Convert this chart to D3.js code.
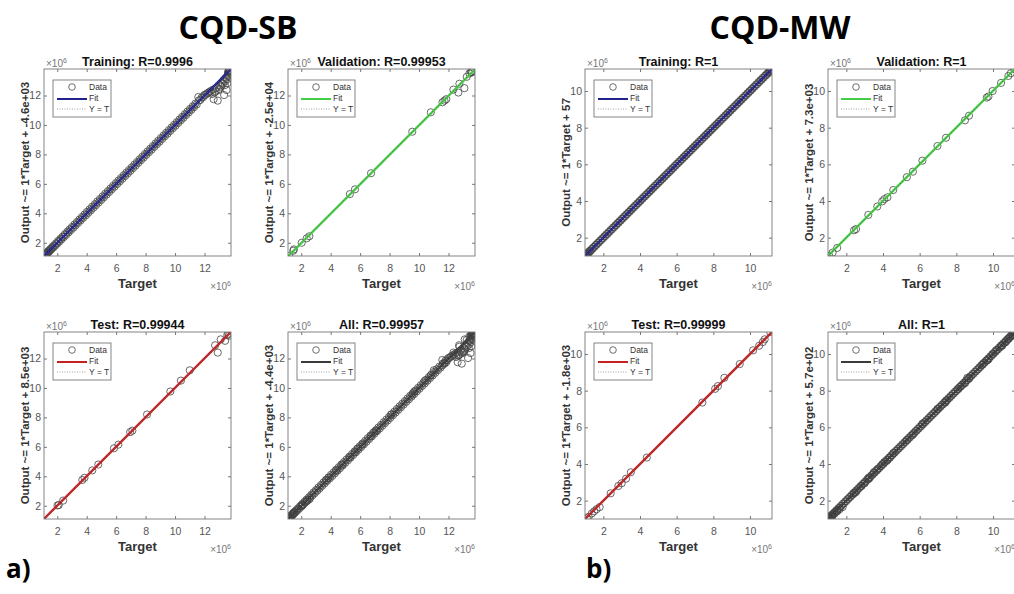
<!DOCTYPE html>
<html>
<head>
<meta charset="utf-8">
<script src="https://cdn.jsdelivr.net/npm/d3@7"></script>
<style>
    body { margin: 0; background: #fff; }
    svg { display: block; font-family: "Liberation Sans", Arial, sans-serif; }
    .tick text { fill: #555; font-size: 10.5px; }
    .tick line { stroke: #777; }
</style>
</head>
<body>
<div id="chart"></div>
<script>
// values are in units of 1e6 (target, output)
const sbTicks = [2, 4, 6, 8, 10, 12];
const mwTicks = [2, 4, 6, 8, 10];
const sbDomain = [1.1, 13.8];
const mwDomain = [1.0, 11.2];

const panelTitles = ["Training: R=0.9996", "Validation: R=0.99953", "Test: R=0.99944", "All: R=0.99957",
    "Training: R=1", "Validation: R=1", "Test: R=0.99999", "All: R=1"];
const slopes = [1, 1, 1, 1, 1, 1, 1, 1];
const intercepts = [-4.6e3, -2.5e4, 8.5e3, -4.4e3, 57, 7.3e3, -1.8e3, 5.7e2];
const interceptLabels = ["-4.6e+03", "-2.5e+04", "8.5e+03", "-4.4e+03", "57", "7.3e+03", "-1.8e+03", "5.7e+02"];
const fitColors = ["#22228c", "#44cc44", "#c42222", "#3a3a3a"];

const trainSB = [
    [1.12, 1.10], [1.14, 1.17], [1.16, 1.12], [1.19, 1.22], [1.21, 1.16], [1.24, 1.27], [1.27, 1.22], [1.30, 1.34],
    [1.33, 1.28], [1.37, 1.41], [1.41, 1.36], [1.45, 1.49], [1.50, 1.45], [1.55, 1.59], [1.60, 1.55], [1.66, 1.71],
    [1.72, 1.67], [1.78, 1.83], [1.85, 1.79], [1.92, 1.97], [1.99, 1.93], [2.06, 2.12], [2.13, 2.07], [2.21, 2.27],
    [2.28, 2.22], [2.36, 2.42], [2.44, 2.38], [2.52, 2.58], [2.60, 2.53], [2.68, 2.75], [2.76, 2.70], [2.84, 2.91],
    [2.92, 2.85], [3.00, 3.07], [3.09, 3.02], [3.17, 3.24], [3.25, 3.18], [3.34, 3.41], [3.42, 3.35], [3.51, 3.58],
    [3.59, 3.52], [3.68, 3.75], [3.76, 3.69], [3.85, 3.92], [3.94, 3.86], [4.02, 4.10], [4.11, 4.03], [4.20, 4.27],
    [4.28, 4.20], [4.37, 4.45], [4.46, 4.38], [4.55, 4.62], [4.63, 4.55], [4.72, 4.80], [4.81, 4.73], [4.90, 4.97],
    [4.99, 4.91], [5.08, 5.15], [5.17, 5.09], [5.26, 5.33], [5.35, 5.27], [5.44, 5.51], [5.53, 5.45], [5.62, 5.69],
    [5.71, 5.63], [5.80, 5.87], [5.89, 5.81], [5.98, 6.05], [6.07, 5.99], [6.16, 6.23], [6.25, 6.17], [6.34, 6.41],
    [6.43, 6.35], [6.52, 6.59], [6.61, 6.53], [6.70, 6.77], [6.79, 6.71], [6.88, 6.95], [6.97, 6.89], [7.06, 7.13],
    [7.15, 7.07], [7.24, 7.31], [7.33, 7.25], [7.42, 7.49], [7.51, 7.43], [7.60, 7.67], [7.69, 7.61], [7.78, 7.85],
    [7.87, 7.79], [7.96, 8.03], [8.05, 7.97], [8.14, 8.21], [8.23, 8.15], [8.32, 8.39], [8.41, 8.33], [8.50, 8.57],
    [8.59, 8.51], [8.68, 8.75], [8.77, 8.69], [8.86, 8.93], [8.95, 8.87], [9.04, 9.11], [9.13, 9.05], [9.22, 9.29],
    [9.31, 9.23], [9.40, 9.47], [9.49, 9.41], [9.58, 9.65], [9.67, 9.59], [9.76, 9.83], [9.85, 9.77], [9.94, 10.01],
    [10.03, 9.95], [10.12, 10.19], [10.21, 10.13], [10.30, 10.37], [10.39, 10.31], [10.48, 10.55], [10.57, 10.49], [10.66, 10.73],
    [10.75, 10.67], [10.84, 10.91], [10.93, 10.85], [11.02, 11.09], [11.11, 11.03], [11.20, 11.27], [11.29, 11.21], [11.38, 11.45],
    [11.47, 11.39], [11.58, 11.90], [11.62, 11.66], [11.72, 11.70], [11.80, 11.86], [11.90, 11.88], [11.98, 12.03], [12.06, 12.04],
    [12.15, 12.12], [12.24, 12.18], [12.33, 12.24], [12.42, 12.30], [12.52, 12.10], [12.58, 12.40], [12.62, 11.75], [12.68, 12.20],
    [12.75, 12.28], [12.82, 12.52], [12.90, 11.65], [12.95, 12.36], [13.00, 12.45], [13.06, 12.70], [13.12, 12.60], [13.18, 12.88],
    [13.25, 12.80], [13.30, 13.05], [13.33, 12.03], [13.38, 12.70], [13.40, 12.95], [13.45, 13.20], [13.50, 12.37], [13.52, 13.10],
    [13.55, 12.83], [13.57, 13.40], [13.58, 13.30], [13.60, 13.55], [13.62, 13.62], [13.63, 13.45], [13.65, 13.68], [13.66, 13.58],
    [13.68, 13.70], [13.70, 13.65], [13.72, 13.74], [13.73, 13.72]
];
const valSB = [
    [1.19, 1.10], [1.46, 1.46], [1.50, 1.55], [2.03, 2.00], [2.37, 2.30], [2.55, 2.44], [5.30, 5.30], [5.65, 5.63],
    [6.74, 6.72], [9.54, 9.54], [10.80, 10.86], [11.59, 11.54], [11.73, 11.65], [11.85, 11.75], [12.33, 12.40], [12.67, 12.20],
    [12.74, 12.80], [13.08, 12.50], [13.24, 13.27], [13.42, 13.50], [13.53, 13.60], [13.58, 13.62], [13.62, 13.58]
];
const testSB = [
    [2.02, 2.02], [2.10, 2.05], [2.40, 2.35], [3.70, 3.75], [3.85, 3.90], [4.38, 4.40], [4.79, 4.80], [5.85, 5.90],
    [6.15, 6.15], [6.95, 7.00], [7.10, 7.10], [8.10, 8.20], [9.68, 9.76], [10.40, 10.50], [11.00, 11.20], [12.72, 12.90],
    [12.90, 12.40], [13.10, 13.30], [13.40, 13.20], [13.55, 13.60], [13.62, 13.68], [13.66, 13.55]
];
const allSB = trainSB.concat(valSB, testSB);

const trainMW = [
    [1.01, 1.00], [1.02, 1.03], [1.04, 1.02], [1.05, 1.07], [1.07, 1.05], [1.09, 1.11], [1.11, 1.09], [1.14, 1.16],
    [1.17, 1.14], [1.20, 1.22], [1.24, 1.21], [1.28, 1.30], [1.32, 1.29], [1.37, 1.39], [1.42, 1.40], [1.47, 1.49],
    [1.52, 1.50], [1.58, 1.60], [1.63, 1.61], [1.69, 1.71], [1.75, 1.73], [1.81, 1.83], [1.87, 1.85], [1.93, 1.95],
    [1.99, 1.97], [2.05, 2.07], [2.11, 2.09], [2.17, 2.19], [2.23, 2.21], [2.29, 2.31], [2.35, 2.33], [2.41, 2.43],
    [2.47, 2.45], [2.53, 2.55], [2.59, 2.57], [2.65, 2.67], [2.71, 2.69], [2.77, 2.79], [2.83, 2.81], [2.89, 2.91],
    [2.95, 2.93], [3.01, 3.03], [3.07, 3.05], [3.13, 3.15], [3.19, 3.17], [3.25, 3.27], [3.31, 3.29], [3.37, 3.39],
    [3.43, 3.41], [3.49, 3.51], [3.55, 3.53], [3.61, 3.63], [3.67, 3.65], [3.73, 3.75], [3.79, 3.77], [3.85, 3.87],
    [3.91, 3.89], [3.97, 3.99], [4.03, 4.01], [4.09, 4.11], [4.15, 4.13], [4.21, 4.23], [4.27, 4.25], [4.33, 4.35],
    [4.39, 4.37], [4.45, 4.47], [4.51, 4.49], [4.57, 4.59], [4.63, 4.61], [4.69, 4.71], [4.75, 4.73], [4.81, 4.83],
    [4.87, 4.85], [4.93, 4.95], [4.99, 4.97], [5.05, 5.07], [5.11, 5.09], [5.17, 5.19], [5.23, 5.21], [5.29, 5.31],
    [5.35, 5.33], [5.41, 5.43], [5.47, 5.45], [5.53, 5.55], [5.59, 5.57], [5.65, 5.67], [5.71, 5.69], [5.77, 5.79],
    [5.83, 5.81], [5.89, 5.91], [5.95, 5.93], [6.01, 6.03], [6.07, 6.05], [6.13, 6.15], [6.19, 6.17], [6.25, 6.27],
    [6.31, 6.29], [6.37, 6.39], [6.43, 6.41], [6.49, 6.51], [6.55, 6.53], [6.61, 6.63], [6.67, 6.65], [6.73, 6.75],
    [6.79, 6.77], [6.85, 6.87], [6.91, 6.89], [6.97, 6.99], [7.03, 7.01], [7.09, 7.11], [7.15, 7.13], [7.21, 7.23],
    [7.27, 7.25], [7.33, 7.35], [7.39, 7.37], [7.45, 7.47], [7.51, 7.49], [7.57, 7.59], [7.63, 7.61], [7.69, 7.71],
    [7.75, 7.73], [7.81, 7.83], [7.87, 7.85], [7.93, 7.95], [7.99, 7.97], [8.05, 8.07], [8.11, 8.09], [8.17, 8.19],
    [8.23, 8.21], [8.29, 8.31], [8.35, 8.33], [8.41, 8.43], [8.47, 8.45], [8.53, 8.55], [8.59, 8.57], [8.65, 8.67],
    [8.71, 8.69], [8.77, 8.79], [8.83, 8.81], [8.89, 8.91], [8.95, 8.93], [9.01, 9.03], [9.07, 9.05], [9.13, 9.15],
    [9.19, 9.17], [9.25, 9.27], [9.31, 9.29], [9.37, 9.39], [9.43, 9.41], [9.49, 9.51], [9.55, 9.53], [9.61, 9.63],
    [9.67, 9.65], [9.73, 9.75], [9.79, 9.77], [9.85, 9.87], [9.91, 9.89], [9.97, 9.99], [10.03, 10.01], [10.09, 10.11],
    [10.15, 10.13], [10.21, 10.23], [10.27, 10.25], [10.33, 10.35], [10.39, 10.37], [10.45, 10.47], [10.51, 10.49], [10.57, 10.59],
    [10.63, 10.61], [10.69, 10.71], [10.75, 10.73], [10.81, 10.83], [10.87, 10.85], [10.92, 10.94], [10.97, 10.95], [11.01, 11.03],
    [11.05, 11.04], [11.09, 11.10], [11.12, 11.11], [11.15, 11.16], [11.17, 11.16], [11.19, 11.19]
];
const valMW = [
    [1.07, 1.00], [1.25, 1.18], [1.50, 1.44], [2.42, 2.40], [2.53, 2.47], [3.20, 3.24], [3.69, 3.70], [3.96, 3.98],
    [4.07, 4.10], [4.24, 4.20], [4.56, 4.60], [5.30, 5.30], [5.63, 5.60], [6.15, 6.20], [6.97, 7.00], [7.44, 7.45],
    [8.47, 8.40], [8.69, 8.65], [9.66, 9.64], [9.75, 9.70], [9.98, 10.00], [10.44, 10.44], [10.84, 10.82], [10.97, 10.97],
    [11.15, 11.20]
];
const testMW = [
    [1.10, 1.04], [1.20, 1.12], [1.37, 1.30], [1.50, 1.42], [1.63, 1.53], [1.80, 1.65], [2.40, 2.40], [2.82, 2.80],
    [3.00, 2.95], [3.24, 3.20], [3.50, 3.55], [4.37, 4.35], [7.40, 7.35], [8.10, 8.10], [8.25, 8.25], [8.60, 8.70],
    [9.44, 9.45], [10.17, 10.20], [10.50, 10.45], [10.70, 10.65], [10.80, 10.80], [11.10, 11.20]
];
const allMW = trainMW.concat(valMW, testMW);

const panelData = [trainSB, valSB, testSB, allSB, trainMW, valMW, testMW, allMW];

const width = 1014,
    height = 594;

const svg = d3.select("#chart")
    .append("svg")
    .attr("width", width)
    .attr("height", height);

svg.append("rect").attr("width", width).attr("height", height).attr("fill", "#fff");

// big headings
svg.append("text").attr("x", 238).attr("y", 39).attr("text-anchor", "middle")
    .style("font-family", "'Open Sans', sans-serif").style("font-weight", 700).style("font-size", "32px")
    .text("CQD-SB");
svg.append("text").attr("x", 780).attr("y", 39).attr("text-anchor", "middle")
    .style("font-family", "'Open Sans', sans-serif").style("font-weight", 700).style("font-size", "32px")
    .text("CQD-MW");
svg.append("text").attr("x", 6).attr("y", 578)
    .style("font-family", "'Open Sans', sans-serif").style("font-weight", 700).style("font-size", "26px")
    .text("a)");
svg.append("text").attr("x", 586).attr("y", 578)
    .style("font-family", "'Open Sans', sans-serif").style("font-weight", 700).style("font-size", "26px")
    .text("b)");

const lefts = [44, 288, 44, 288, 585, 828, 585, 828];
const tops = [69, 69, 332, 332, 69, 69, 332, 332];
const boxW = 187,
    boxH = 187;

panelData.forEach(function (data, i) {
    const isSB = i < 4;
    const dom = isSB ? sbDomain : mwDomain;
    const ticks = isSB ? sbTicks : mwTicks;
    const color = fitColors[i % 4];

    const g = svg.append("g").attr("transform", `translate(${lefts[i]}, ${tops[i]})`);

    const x = d3.scaleLinear().domain(dom).range([0, boxW]);
    const y = d3.scaleLinear().domain(dom).range([boxH, 0]);

    g.append("clipPath").attr("id", "clip" + i)
        .append("rect").attr("width", boxW).attr("height", boxH);

    // axes, ticks inward like MATLAB
    g.append("g").attr("transform", `translate(0, ${boxH})`)
        .call(d3.axisBottom(x).tickValues(ticks).tickSize(-3).tickPadding(9))
        .call(a => a.select(".domain").remove());
    g.append("g")
        .call(d3.axisLeft(y).tickValues(ticks).tickSize(-3).tickPadding(3))
        .call(a => a.select(".domain").remove());
    g.append("g")
        .call(d3.axisTop(x).tickValues(ticks).tickSize(-3).tickFormat(""))
        .call(a => a.select(".domain").remove());
    g.append("g").attr("transform", `translate(${boxW}, 0)`)
        .call(d3.axisRight(y).tickValues(ticks).tickSize(-3).tickFormat(""))
        .call(a => a.select(".domain").remove());

    const plot = g.append("g").attr("clip-path", `url(#clip${i})`);

    plot.selectAll("circle")
        .data(data)
        .join("circle")
        .attr("cx", d => x(d[0]))
        .attr("cy", d => y(d[1]))
        .attr("r", 3.6)
        .attr("fill", "none")
        .attr("stroke", "#444")
        .attr("stroke-width", 0.8);

    const fit = d3.line().x(d => x(d)).y(d => y(slopes[i] * d + intercepts[i] / 1e6));
    plot.append("path")
        .attr("d", fit(dom))
        .attr("fill", "none")
        .attr("stroke", color)
        .attr("stroke-width", 2.4);

    plot.append("path")
        .attr("d", d3.line().x(d => x(d)).y(d => y(d))(dom))
        .attr("fill", "none")
        .attr("stroke", "#666")
        .attr("stroke-width", 0.8)
        .attr("stroke-dasharray", "1,2");

    g.append("rect")
        .attr("width", boxW).attr("height", boxH)
        .attr("fill", "none").attr("stroke", "#777").attr("stroke-width", 0.9);

    // legend
    const lg = g.append("g").attr("transform", "translate(9, 11)");
    lg.append("rect").attr("width", 58).attr("height", 37)
        .attr("fill", "#fff").attr("stroke", "#666").attr("stroke-width", 0.8);
    lg.append("circle").attr("cx", 19).attr("cy", 7).attr("r", 3.3)
        .attr("fill", "none").attr("stroke", "#4a4a4a").attr("stroke-width", 0.8);
    lg.append("line").attr("x1", 4).attr("x2", 34).attr("y1", 19).attr("y2", 19)
        .attr("stroke", color).attr("stroke-width", 2);
    lg.append("line").attr("x1", 4).attr("x2", 34).attr("y1", 29).attr("y2", 29)
        .attr("stroke", "#888").attr("stroke-width", 0.8).attr("stroke-dasharray", "1,1.5");
    ["Data", "Fit", "Y = T"].forEach(function (t, k) {
        lg.append("text").attr("x", 36).attr("y", 10 + k * 11)
            .style("font-size", "8.5px").attr("fill", "#333").text(t);
    });

    // labels
    g.append("text").attr("x", boxW / 2).attr("y", -3).attr("text-anchor", "middle")
        .style("font-weight", 700).style("font-size", "12.5px").attr("fill", "#111")
        .text(panelTitles[i]);
    g.append("text").attr("x", boxW / 2).attr("y", boxH + 32).attr("text-anchor", "middle")
        .style("font-weight", 700).style("font-size", "13px").attr("fill", "#333")
        .text("Target");
    g.append("text").attr("transform", `translate(-15, ${boxH / 2}) rotate(-90)`).attr("text-anchor", "middle")
        .style("font-weight", 700).style("font-size", "11.5px").attr("fill", "#333")
        .text("Output ~= " + slopes[i] + "*Target + " + interceptLabels[i]);

    // x10^6 exponent labels
    const e1 = g.append("text").attr("x", 2).attr("y", -2)
        .style("font-size", "10px").attr("fill", "#777");
    e1.append("tspan").text("\u00d710");
    e1.append("tspan").attr("dy", -4).style("font-size", "7px").text("6");
    const e2 = g.append("text").attr("x", boxW).attr("y", boxH + 34).attr("text-anchor", "end")
        .style("font-size", "10px").attr("fill", "#777");
    e2.append("tspan").text("\u00d710");
    e2.append("tspan").attr("dy", -4).style("font-size", "7px").text("6");
});
</script>
</body>
</html>
